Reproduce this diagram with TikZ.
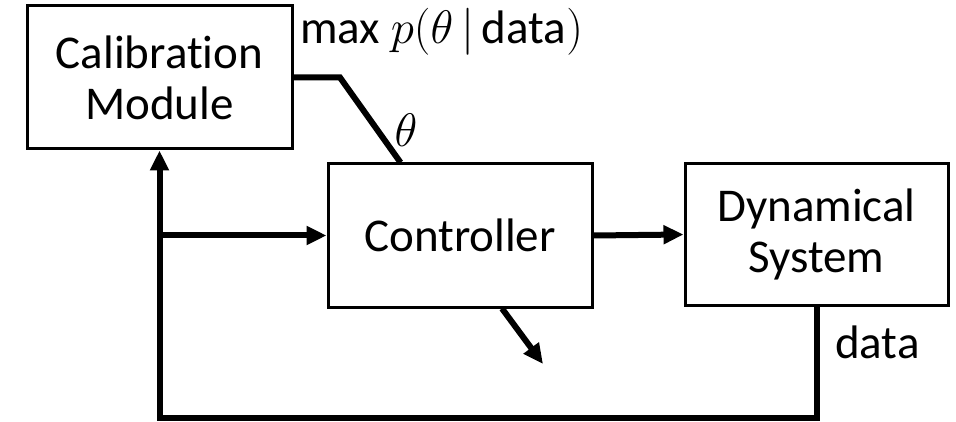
\documentclass[tikz,border=0pt]{standalone}
\usepackage{fix-cm}
\usepackage{fontspec}
\setmainfont[Ligatures=NoCommon]{Carlito}
\usetikzlibrary{arrows.meta,calc}
\begin{document}
\begin{tikzpicture}[x=1pt,y=-1pt,
  txt/.style={font=\fontsize{47}{51}\selectfont},
  box/.style={draw, line width=3pt, inner sep=0pt, align=center, txt},
  wire/.style={line width=6pt},
  arr/.style={wire, -{Triangle[length=20pt,width=18pt]}},
  lbl/.style={txt, inner sep=0pt}]
\useasboundingbox (0,0) rectangle (956,422);
\node[box, minimum width=265pt, minimum height=143pt] (cal) at (159.5,77.5) {Calibration\\Module};
\node[box, minimum width=264pt, minimum height=143pt] (ctl) at (460,235.5) {Controller};
\node[box, minimum width=263pt, minimum height=141pt] (dyn) at (816.5,234.5) {Dynamical\\System};
% calibration -> controller (theta)
\coordinate (k1) at (340,77.5);
\coordinate (tin) at ($(ctl.north west)+(74,0)$);
\draw[wire] (cal.east) -- (k1) -- (tin);
% controller -> dynamical system
\draw[arr] (ctl.east) -- (dyn.west);
% feedback loop
\coordinate (br) at (dyn.south |- 0,418);
\coordinate (bl) at (cal.south |- 0,418);
\coordinate (j) at (cal.south |- ctl.west);
\draw[arr] (dyn.south) -- (br) -- (bl) -- (cal.south);
\draw[arr] (j) -- (ctl.west);
% controller output
\coordinate (cout) at ($(ctl.south)+(42,0)$);
\coordinate (tip) at (543,364);
\draw[arr] (cout) -- (tip);
% labels
\node[lbl, anchor=base west] (mx) at (300,44) {max $p(\theta\,|\,$data$)$};
\node[lbl] (th) at (406,130) {$\theta$};
\node[lbl, anchor=base west] (dl) at (835,358) {data};
\end{tikzpicture}
\end{document}
